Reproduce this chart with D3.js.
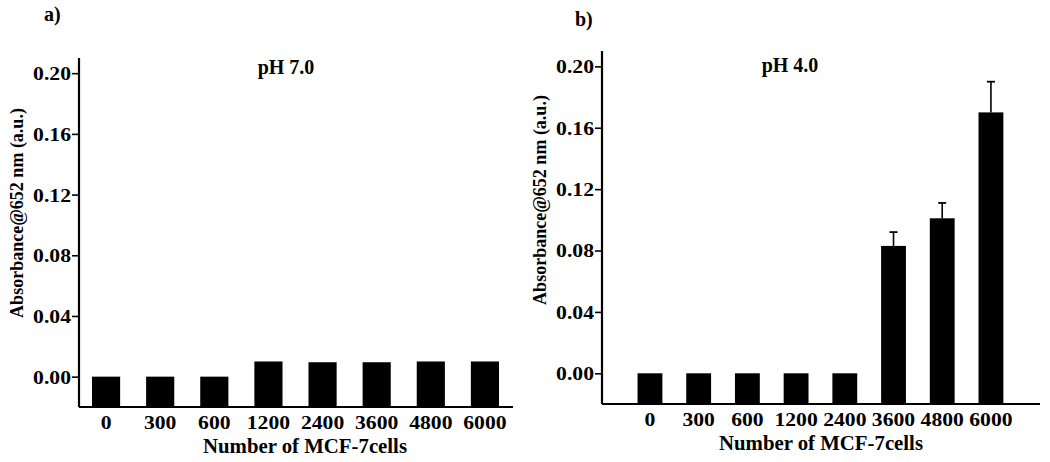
<!DOCTYPE html>
<html>
<head>
<meta charset="utf-8">
<script src="https://cdn.jsdelivr.net/npm/d3@7"></script>
<style>
  body { margin: 0; background: #fff; }
  svg text { font-family: "Liberation Serif", "Times New Roman", serif; font-weight: bold; fill: #000; }
</style>
</head>
<body>
<div id="chart"></div>
<script>
// data
const categories = ["0", "300", "600", "1200", "2400", "3600", "4800", "6000"];
const ph7Values = [0, 0, 0, 0.010, 0.0095, 0.0095, 0.010, 0.010];
const ph4Values = [0, 0, 0, 0, 0, 0.083, 0.101, 0.170];
const ph4Errors = [0, 0, 0, 0, 0, 0.009, 0.010, 0.020];
const yTicks = [0, 0.04, 0.08, 0.12, 0.16, 0.20];

// the original lettering is a little wider than Liberation Serif
const stretch = 1.14;

const svg = d3.select("#chart").append("svg")
    .attr("width", 1050)
    .attr("height", 462);

function drawPanel(p) {
    const g = svg.append("g");

    const y = d3.scaleLinear()
        .domain([-0.02, 0.21])
        .range([p.bottom, p.top]);

    const x = d3.scaleBand()
        .domain(categories)
        .range([p.bandStart, p.bandEnd])
        .paddingInner(p.pad)
        .paddingOuter(p.pad / 2);

    // bars, starting at the x axis
    g.selectAll(".bar")
        .data(p.values)
        .enter()
        .append("rect")
        .attr("class", "bar")
        .attr("x", (d, i) => x(categories[i]))
        .attr("width", x.bandwidth())
        .attr("y", d => y(d))
        .attr("height", d => y.range()[0] - y(d))
        .attr("fill", "#000");

    // error bars (only the upper half is drawn)
    if (p.errors) {
        const cap = 4;
        p.errors.forEach((e, i) => {
            if (!e) return;
            const cx = x(categories[i]) + x.bandwidth() / 2;
            g.append("line")
                .attr("x1", cx).attr("x2", cx)
                .attr("y1", y(p.values[i])).attr("y2", y(p.values[i] + e))
                .attr("stroke", "#000").attr("stroke-width", 1.6);
            g.append("line")
                .attr("x1", cx - cap).attr("x2", cx + cap)
                .attr("y1", y(p.values[i] + e)).attr("y2", y(p.values[i] + e))
                .attr("stroke", "#000").attr("stroke-width", 1.8);
        });
    }

    // y axis
    const yAxis = g.append("g")
        .attr("transform", `translate(${p.left},0)`)
        .call(d3.axisLeft(y).tickValues(yTicks).tickSize(7).tickPadding(1).tickFormat(d3.format(".2f")));
    yAxis.select(".domain").remove();
    yAxis.selectAll(".tick line").attr("stroke", "#000").attr("stroke-width", 1.6);
    yAxis.selectAll(".tick text")
        .style("font-size", "19px")
        .attr("dy", "0.34em")
        .attr("x", -8 / stretch)
        .attr("transform", `scale(${stretch},1)`);

    g.append("line")
        .attr("x1", p.left).attr("x2", p.left)
        .attr("y1", p.top).attr("y2", p.bottom)
        .attr("stroke", "#000").attr("stroke-width", 2.2);

    // x axis
    g.append("line")
        .attr("x1", p.left).attr("x2", p.right)
        .attr("y1", p.bottom).attr("y2", p.bottom)
        .attr("stroke", "#000").attr("stroke-width", 2.2);

    g.selectAll(".xlab")
        .data(categories)
        .enter()
        .append("text")
        .attr("class", "xlab")
        .attr("transform", d => `translate(${x(d) + x.bandwidth() / 2},${p.bottom + 22}) scale(${stretch},1)`)
        .attr("text-anchor", "middle")
        .style("font-size", "19px")
        .text(d => d);

    g.append("text")
        .attr("transform", `translate(${p.xTitleX},${p.bottom + 46}) scale(1.04,1)`)
        .attr("text-anchor", "middle")
        .style("font-size", "20px")
        .text("Number of MCF-7cells");

    g.append("text")
        .attr("transform", `translate(${p.yTitleX},${p.yTitleY}) rotate(-90)`)
        .attr("text-anchor", "middle")
        .style("font-size", "18px")
        .text("Absorbance@652 nm (a.u.)");

    g.append("text")
        .attr("x", p.titleX)
        .attr("y", p.titleY)
        .attr("text-anchor", "middle")
        .style("font-size", "20px")
        .text(p.title);

    g.append("text")
        .attr("x", p.tagX)
        .attr("y", p.tagY)
        .style("font-size", "20px")
        .text(p.tag);
}

drawPanel({
    values: ph7Values, errors: null,
    left: 79, right: 513, top: 58, bottom: 407,
    bandStart: 79, bandEnd: 512, pad: 0.48,
    xTitleX: 305, yTitleX: 23, yTitleY: 213,
    title: "pH 7.0", titleX: 286, titleY: 74,
    tag: "a)", tagX: 44, tagY: 21
});

drawPanel({
    values: ph4Values, errors: ph4Errors,
    left: 602, right: 1040, top: 51, bottom: 404,
    bandStart: 625.6, bandEnd: 1015.3, pad: 0.49,
    xTitleX: 821, yTitleX: 546, yTitleY: 200,
    title: "pH 4.0", titleX: 790, titleY: 72,
    tag: "b)", tagX: 575, tagY: 26
});
</script>
</body>
</html>
